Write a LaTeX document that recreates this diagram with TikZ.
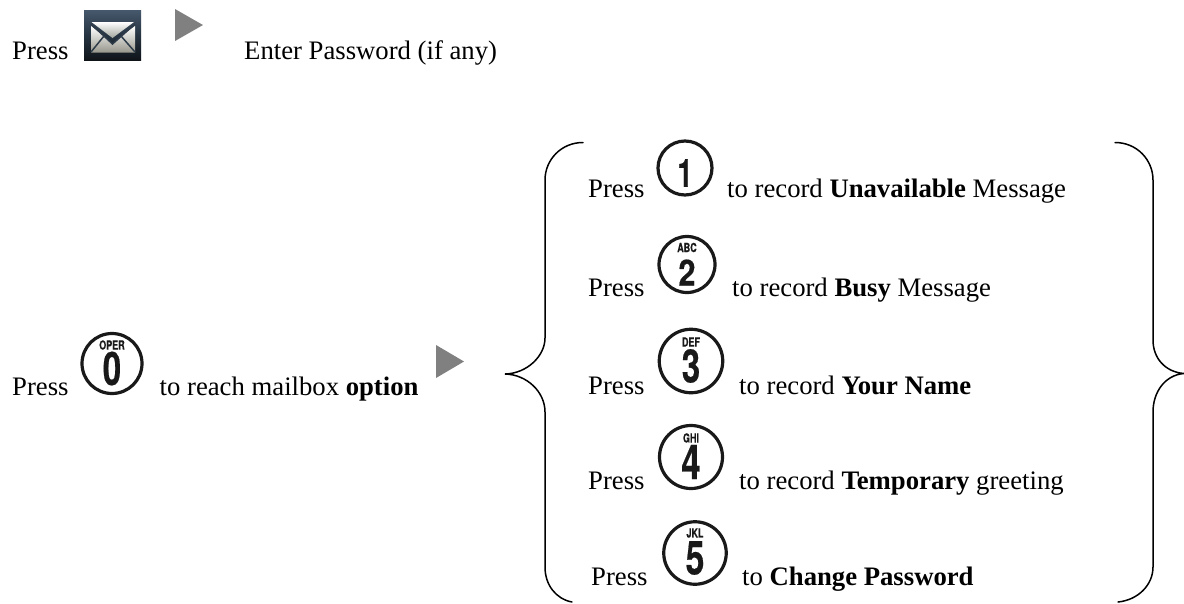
\documentclass[tikz,border=0pt]{standalone}
\usepackage{fontspec}
\usepackage{graphicx}
\setmainfont{Liberation Serif}
\newfontfamily\keyfont[BoldFeatures={FakeBold=0.5}]{TeX Gyre Heros}
\usetikzlibrary{calc}
\tikzset{
  txt/.style={anchor=base west,inner sep=0pt,font=\fontsize{26.7}{30}\selectfont,text=black},
  keyring/.style={circle,draw=black!90,line width=3.2pt,inner sep=0pt,fill=white},
  keyglyph/.style={inner sep=0pt,text=black!90},
  bracepath/.style={draw=black,line width=1.5pt,line cap=round,line join=miter},
  marker/.style={fill=black!50,draw=none},
}
% name, x, y, diameter, letters, letter-y offset, digit, digit-y offset, digit size
\newcommand{\keybtn}[9]{%
  \node[keyring,minimum size=#4pt] (#1) at (#2,#3) {};
  \node[keyglyph] (#1d) at ($(#1)+(0,#8)$) {\keyfont\bfseries\fontsize{#9}{#9}\selectfont #7};
  \if\relax\detokenize{#5}\relax\else
  \node[keyglyph] (#1l) at ($(#1)+(0,#6)$) {\keyfont\bfseries\fontsize{12.5}{13}\selectfont\scalebox{.72}[1]{#5}};
  \fi
}
\begin{document}
\begin{tikzpicture}[x=1pt,y=-1pt]
\useasboundingbox[fill=white] (0,0) rectangle (1184,603);
% first row
\node[txt] (p0) at (12,59) {Press};
\node[inner sep=0pt,minimum width=57pt,minimum height=50pt,
      top color={rgb,255:red,70;green,88;blue,108},
      bottom color={rgb,255:red,15;green,20;blue,25},
      middle color={rgb,255:red,38;green,52;blue,66}] (env) at (112.5,35) {};
\shade[top color=white,bottom color={rgb,255:red,160;green,165;blue,155}]
  (91.5,22) -- (134,22) -- (112.5,38) -- cycle;
\shade[top color=white,bottom color={rgb,255:red,150;green,150;blue,140}]
  (91,26) -- (103,35.5) -- (112.5,44) -- (122,35.5) -- (135,26) -- (135,52.5) -- (91,52.5) -- cycle;
\draw[line width=1.5pt,draw={rgb,255:red,45;green,58;blue,72}]
  (91,24) -- (112.5,44) -- (135,24) (91,52) -- (104,36) (135,52) -- (121,36);
\fill[marker] (175,9) -- (203,25) -- (175,41) -- cycle;
\node[txt] (pw) at (244,59) {Enter Password (if any)};
% left column
\node[txt] (p9) at (12,395) {Press};
\keybtn{k0}{112}{363.5}{60}{OPER}{-18.5}{\scalebox{.72}[1]{0}}{5}{46}
\node[txt] (t0) at (159.5,395) {to reach mailbox \textbf{option}};
\fill[marker] (436,345) -- (464,361.5) -- (436,378) -- cycle;
% options
\node[txt] (p1) at (588,197) {Press};
\keybtn{k1}{685}{168}{54}{}{0}{\scalebox{.7}[1]{1}}{5}{39}
\node[txt] (t1) at (727,197) {to record \textbf{Unavailable} Message};
\node[txt] (p2) at (588,296) {Press};
\keybtn{k2}{687}{264.5}{56}{ABC}{-17}{\scalebox{.85}[1]{2}}{8}{36}
\node[txt] (t2) at (732,296) {to record \textbf{Busy} Message};
\node[txt] (p3) at (588,394.5) {Press};
\keybtn{k3}{691}{361}{63.5}{DEF}{-19}{\scalebox{.72}[1]{3}}{5}{46}
\node[txt] (t3) at (739,394.5) {to record \textbf{Your Name}};
\node[txt] (p4) at (588,489.5) {Press};
\keybtn{k4}{691}{457}{63}{GHI}{-19}{\scalebox{.72}[1]{4}}{5}{48}
\node[txt] (t4) at (739,489.5) {to record \textbf{Temporary} greeting};
\node[txt] (p5) at (591,585) {Press};
\keybtn{k5}{695}{553}{62.5}{JKL}{-20}{\scalebox{.72}[1]{5}}{5}{47}
\node[txt] (t5) at (742,585) {to \textbf{Change Password}};
% braces
\draw[bracepath] (583,142.5) .. controls (561,142.5) and (545,160) .. (545,180)
  -- (545,338) .. controls (545,356) and (527,373.5) .. (505,374)
  .. controls (527,374.5) and (545,392) .. (545,412)
  -- (545,567) .. controls (545,585) and (556,599) .. (572,602);
\draw[bracepath] (1115,142.5) .. controls (1137,142.5) and (1153,160) .. (1153,180)
  -- (1153,340) .. controls (1153,358) and (1165,372) .. (1184,373.5)
  .. controls (1165,375) and (1153,392) .. (1153,412)
  -- (1153,567) .. controls (1153,585) and (1138,600) .. (1118,602);
\end{tikzpicture}
\end{document}
